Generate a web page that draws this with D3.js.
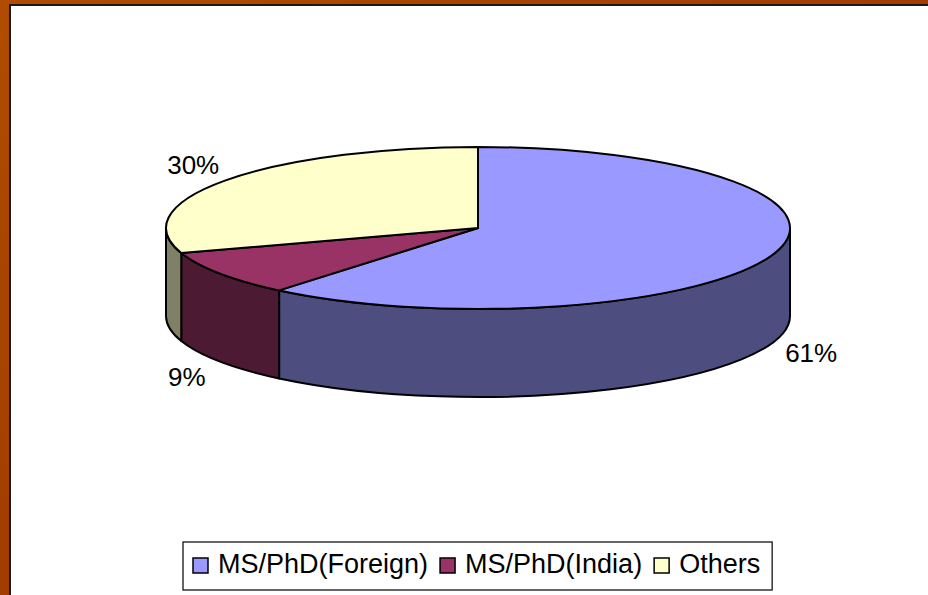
<!DOCTYPE html>
<html>
<head>
<meta charset="utf-8">
<script src="https://cdn.jsdelivr.net/npm/d3@7"></script>
<style>
  html, body { margin: 0; padding: 0; background: #fff; }
  svg { display: block; font-family: "Liberation Sans", Arial, sans-serif; }
</style>
</head>
<body>
<svg id="chart" width="928" height="595"></svg>
<script>
(function () {
  'use strict';

  // data
  var categories = ['MS/PhD(Foreign)', 'MS/PhD(India)', 'Others'];
  var values = [61, 9, 30];
  var labels = ['61%', '9%', '30%'];
  var topColors = ['#9999ff', '#993366', '#ffffcc'];
  var sideColors = ['#4d4d80', '#4d1a33', '#808066'];

  var width = 928, height = 595;
  var cx = 478, cy = 228, rx = 312, ry = 81, depth = 88;

  var svg = d3.select('#chart');

  // orange slide background
  var defs = svg.append('defs');
  var grad = defs.append('linearGradient')
    .attr('id', 'bg').attr('x1', 0).attr('y1', 0).attr('x2', 1).attr('y2', 1);
  grad.append('stop').attr('offset', '0%').attr('stop-color', '#b04c00');
  grad.append('stop').attr('offset', '50%').attr('stop-color', '#a23c00');
  grad.append('stop').attr('offset', '100%').attr('stop-color', '#a84400');

  svg.append('rect')
    .attr('width', width).attr('height', height)
    .attr('fill', 'url(#bg)');

  svg.append('rect')
    .attr('x', 10).attr('y', 5)
    .attr('width', width).attr('height', height)
    .attr('fill', '#fff')
    .attr('stroke', '#1a1a1a')
    .attr('stroke-width', 2);

  var pie = d3.pie().sort(null).startAngle(0).endAngle(2 * Math.PI);
  var arcs = pie(values);

  function pt(a, dy) {
    return [cx + rx * Math.sin(a), cy - ry * Math.cos(a) + (dy || 0)];
  }

  function topPath(d) {
    var p0 = pt(d.startAngle), p1 = pt(d.endAngle);
    var large = (d.endAngle - d.startAngle) > Math.PI ? 1 : 0;
    return 'M' + cx + ',' + cy +
      'L' + p0[0] + ',' + p0[1] +
      'A' + rx + ',' + ry + ' 0 ' + large + ' 1 ' + p1[0] + ',' + p1[1] + 'Z';
  }

  function sidePath(d) {
    var a = Math.max(d.startAngle, Math.PI / 2);
    var b = Math.min(d.endAngle, 3 * Math.PI / 2);
    if (b <= a) return null;
    var p0 = pt(a), p1 = pt(b), q1 = pt(b, depth), q0 = pt(a, depth);
    return 'M' + p0[0] + ',' + p0[1] +
      'A' + rx + ',' + ry + ' 0 0 1 ' + p1[0] + ',' + p1[1] +
      'L' + q1[0] + ',' + q1[1] +
      'A' + rx + ',' + ry + ' 0 0 0 ' + q0[0] + ',' + q0[1] + 'Z';
  }

  var g = svg.append('g');

  g.selectAll('.side')
    .data(arcs.filter(function (d) { return sidePath(d) !== null; }))
    .enter().append('path')
    .attr('class', 'side')
    .attr('d', sidePath)
    .attr('fill', function (d) { return sideColors[d.index]; })
    .attr('stroke', '#000')
    .attr('stroke-width', 2)
    .attr('stroke-linejoin', 'round');

  g.selectAll('.top')
    .data(arcs)
    .enter().append('path')
    .attr('class', 'top')
    .attr('d', topPath)
    .attr('fill', function (d) { return topColors[d.index]; })
    .attr('stroke', '#000')
    .attr('stroke-width', 2)
    .attr('stroke-linejoin', 'round');

  // percentage labels, placed outside the ellipse
  g.selectAll('.lbl')
    .data(arcs)
    .enter().append('text')
    .attr('class', 'lbl')
    .attr('x', function (d) {
      var m = (d.startAngle + d.endAngle) / 2;
      return cx + (rx + 40) * Math.sin(m) + (Math.sin(m) > 0 ? 2 : 0);
    })
    .attr('y', function (d) {
      var m = (d.startAngle + d.endAngle) / 2;
      var c = Math.cos(m);
      return cy - (ry + 26) * c + (c < 0 ? depth : 0);
    })
    .attr('dy', '0.36em')
    .attr('text-anchor', 'middle')
    .attr('font-size', 26)
    .attr('fill', '#000')
    .text(function (d) { return labels[d.index]; });

  // legend
  var legend = svg.append('g');
  var lx = 183, ly = 542, lh = 48, fs = 27, sq = 15;
  var items = legend.selectAll('.item')
    .data(categories)
    .enter().append('g')
    .attr('class', 'item');

  items.append('text')
    .attr('y', ly + 31)
    .attr('font-size', fs)
    .attr('fill', '#000')
    .text(function (d) { return d; });

  var x = lx + 10;
  items.each(function (d, i) {
    var item = d3.select(this);
    item.append('rect')
      .attr('x', x).attr('y', ly + 16)
      .attr('width', sq).attr('height', sq)
      .attr('fill', topColors[i])
      .attr('stroke', '#000')
      .attr('stroke-width', 1.5);
    var t = item.select('text').attr('x', x + sq + 10);
    x = x + sq + 10 + t.node().getComputedTextLength() + 12;
  });

  legend.insert('rect', ':first-child')
    .attr('x', lx).attr('y', ly)
    .attr('width', x - lx).attr('height', lh)
    .attr('fill', '#fff')
    .attr('stroke', '#000')
    .attr('stroke-width', 1.2);
}());
</script>
</body>
</html>
